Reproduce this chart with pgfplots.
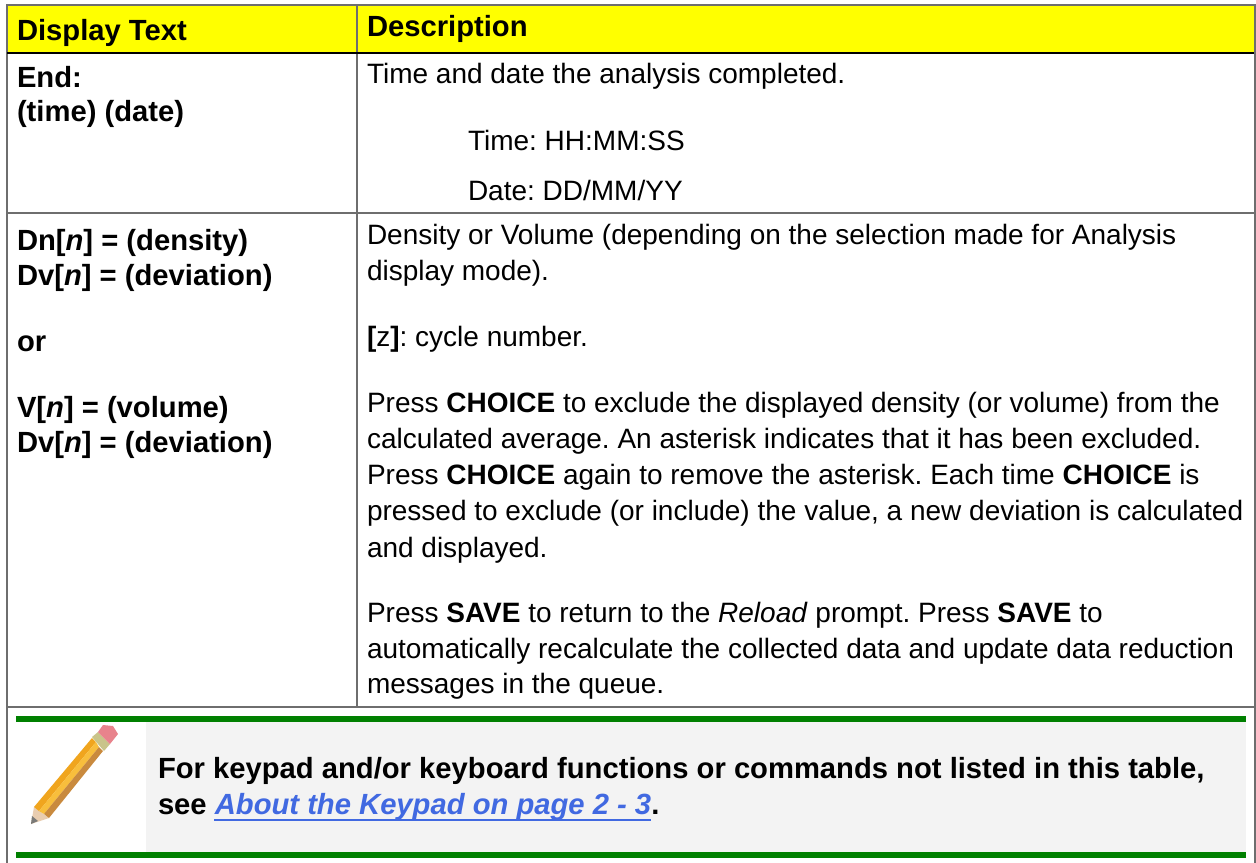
\documentclass[border=0pt]{standalone}
\usepackage{pgfplots}
\pgfplotsset{compat=1.18}
\usepackage{fontspec}
\setmainfont{Liberation Sans}
\frenchspacing
\definecolor{gborder}{HTML}{6E6E6E}
\definecolor{ggreen}{HTML}{008000}
\definecolor{glink}{HTML}{4169E1}
\definecolor{gbg}{HTML}{F3F3F3}
\definecolor{yel}{HTML}{FFFF00}
\definecolor{pa}{HTML}{F0A51E}
\definecolor{pb}{HTML}{F8BE3C}
\definecolor{pc}{HTML}{C98A3E}
\definecolor{pw}{HTML}{E9CDB0}
\definecolor{pt}{HTML}{7A7A78}
\definecolor{pf}{HTML}{C9C48A}
\definecolor{pe}{HTML}{E8838C}
\newcommand{\T}[3]{\node[anchor=base west,inner sep=0pt,outer sep=0pt,font=\fontsize{21pt}{24pt}\selectfont] at (axis cs:#1,#2) {#3};}
\newcommand{\B}[3]{\node[anchor=base west,inner sep=0pt,outer sep=0pt,font=\fontsize{21.9pt}{25pt}\selectfont\bfseries] at (axis cs:#1,#2) {#3};}
\begin{document}
\begin{tikzpicture}
\begin{axis}[
  scale only axis, width=942pt, height=647.25pt,
  xmin=0, xmax=1256, ymin=0, ymax=863, y dir=reverse,
  hide axis, clip=true,
]
\addplot[draw=none,fill=white] coordinates {(0,0)(1256,0)(1256,863)(0,863)} --cycle;
% header
\addplot[draw=none,fill=yel] coordinates {(7,6)(1254,6)(1254,52)(7,52)} --cycle;
% note background
\addplot[draw=none,fill=gbg] coordinates {(146,722)(1246,722)(1246,852)(146,852)} --cycle;
\addplot[draw=none,fill=ggreen] coordinates {(16,716)(1246,716)(1246,722)(16,722)} --cycle;
\addplot[draw=none,fill=ggreen] coordinates {(16,852)(1246,852)(1246,858)(16,858)} --cycle;
% rules
\addplot[gborder,line width=1.5pt] coordinates {(7,863)(7,5)(1254.5,5)(1254.5,863)};
\addplot[gborder,line width=1.5pt] coordinates {(357,5)(357,706.5)};
\addplot[black,line width=1.5pt] coordinates {(7,53)(1254,53)};
\addplot[gborder,line width=1.5pt] coordinates {(7,212.5)(1254,212.5)};
\addplot[gborder,line width=1.5pt] coordinates {(7,706.5)(1254,706.5)};
% pencil
\addplot[draw=none,fill=pw] coordinates {(31,824)(34,807)(49,818)} --cycle;
\addplot[draw=none,fill=pt] coordinates {(31,824)(32,816)(38,821)} --cycle;
\addplot[draw=none,fill=pa] coordinates {(34,807)(92,738)(96,742)(39,811)} --cycle;
\addplot[draw=none,fill=pb] coordinates {(39,811)(96,742)(99,747)(44,814)} --cycle;
\addplot[draw=none,fill=pc] coordinates {(44,814)(99,747)(103,751)(49,818)} --cycle;
\addplot[draw=none,fill=pf] coordinates {(92,737)(98,732)(110,744)(104,751)} --cycle;
\addplot[draw=none,fill=pe] coordinates {(98,732)(103,725)(113,726)(118,734)(110,744)} --cycle;
% link underline
\addplot[glink,line width=1.5pt] coordinates {(214,820)(651,820)};
% text
\B{17}{41}{Display Text}
\B{367}{37}{Description}
\B{17}{88}{End:}
\B{17}{122}{(time) (date)}
\T{367}{84}{Time and date the analysis completed.}
\T{468}{151}{Time: HH:MM:SS}
\T{468}{200}{Date: DD/MM/YY}
\B{17}{250}{Dn[\textit{n}] = (density)}
\B{17}{285}{Dv[\textit{n}] = (deviation)}
\B{17}{351}{or}
\B{17}{417}{V[\textit{n}] = (volume)}
\B{17}{452}{Dv[\textit{n}] = (deviation)}
\T{367}{244}{Density or Volume (depending on the selection made for Analysis}
\T{367}{280}{display mode).}
\T{367}{346}{\textbf{[}z\textbf{]}: cycle number.}
\T{367}{412}{Press \textbf{CHOICE} to exclude the displayed density (or volume) from the}
\T{367}{448}{calculated average. An asterisk indicates that it has been excluded.}
\T{367}{484}{Press \textbf{CHOICE} again to remove the asterisk. Each time \textbf{CHOICE} is}
\T{367}{520}{pressed to exclude (or include) the value, a new deviation is calculated}
\T{367}{557}{and displayed.}
\T{367}{622}{Press \textbf{SAVE} to return to the \textit{Reload} prompt. Press \textbf{SAVE} to}
\T{367}{658}{automatically recalculate the collected data and update data reduction}
\T{367}{693}{messages in the queue.}
\B{158}{778}{For keypad and/or keyboard functions or commands not listed in this table,}
\B{158}{814}{see {\color{glink}\itshape About the Keypad on page 2 - 3}.}
\end{axis}
\end{tikzpicture}
\end{document}
